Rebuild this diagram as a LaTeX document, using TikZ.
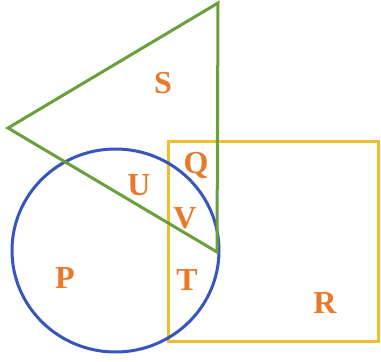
\documentclass[tikz,border=0pt]{standalone}
\usepackage{fontspec}
\setmainfont{Liberation Serif}
\definecolor{tgreen}{RGB}{105,160,60}
\definecolor{cblue}{RGB}{55,85,190}
\definecolor{sqorange}{RGB}{240,190,45}
\definecolor{lblorange}{RGB}{235,120,40}
\begin{document}
\begin{tikzpicture}[x=1pt,y=-1pt,
  shapeline/.style={line width=3pt},
  lbl/.style={text=lblorange,font=\fontsize{32}{34}\selectfont\bfseries,inner sep=0pt}]
\useasboundingbox (0,0) rectangle (381,362);
\draw[shapeline,sqorange] (168,141) rectangle (378,341);
\draw[shapeline,cblue] (115.5,250.5) circle[x radius=103.5,y radius=101.5];
\draw[shapeline,tgreen,line join=miter] (218,3) -- (8,128) -- (217,252) -- cycle;
\node[lbl] (S) at (163,83) {S};
\node[lbl] (U) at (139,185) {U};
\node[lbl] (Q) at (196,165) {Q};
\node[lbl] (V) at (185,218) {V};
\node[lbl] (P) at (65,278) {P};
\node[lbl] (T) at (187,280) {T};
\node[lbl] (R) at (325,303) {R};
\end{tikzpicture}
\end{document}
